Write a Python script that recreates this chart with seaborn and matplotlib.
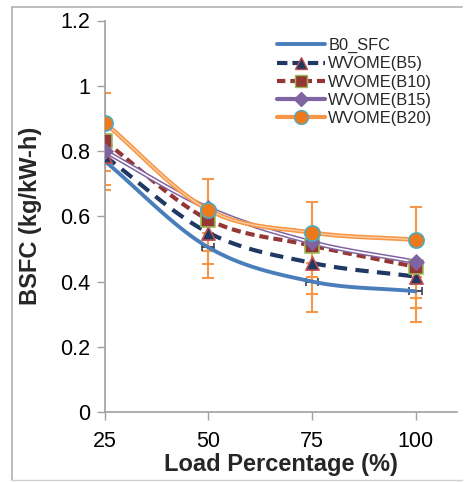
import numpy as np
import pandas as pd
import matplotlib
matplotlib.use("Agg")
import matplotlib.pyplot as plt
import seaborn as sns
from matplotlib.lines import Line2D

# ---- data ----
load = [25, 50, 75, 100]
b0_sfc = [0.77, 0.505, 0.40, 0.37]
b5 = [0.785, 0.55, 0.457, 0.415]
b10 = [0.83, 0.59, 0.51, 0.445]
b15 = [0.80, 0.625, 0.52, 0.46]
b20 = [0.887, 0.62, 0.55, 0.528]
err_b20_up = [0.09, 0.095, 0.095, 0.10]
err_low = [0.09, 0.095, 0.095, 0.095]
series_names = ["B0_SFC", "WVOME(B5)", "WVOME(B10)", "WVOME(B15)", "WVOME(B20)"]
x_ticks = [25, 50, 75, 100]
y_ticks = [0, 0.2, 0.4, 0.6, 0.8, 1, 1.2]
y_ticklabels = ["0", "0.2", "0.4", "0.6", "0.8", "1", "1.2"]

sns.set_theme(style="white")
plt.rcParams["font.family"] = ["Liberation Sans", "DejaVu Sans"]

fig = plt.figure(figsize=(4.75, 4.82), dpi=100)
ax = fig.add_axes([104.5 / 475, 1 - 412 / 482, (457 - 104.5) / 475, (412 - 20.5) / 482])


def smooth(xs, ys, n=40):
    """Catmull-Rom rendering of a line through the given points (Excel-style smoothing)."""
    xs = np.asarray(xs, float)
    ys = np.asarray(ys, float)
    P = np.column_stack([xs, ys])
    P = np.vstack([2 * P[0] - P[1], P, 2 * P[-1] - P[-2]])
    out = []
    for i in range(1, len(P) - 2):
        p0, p1, p2, p3 = P[i - 1], P[i], P[i + 1], P[i + 2]
        t = np.linspace(0, 1, n)[:, None]
        c1 = p1 + (p2 - p0) / 6
        c2 = p2 - (p3 - p1) / 6
        pts = ((1 - t) ** 3) * p1 + 3 * ((1 - t) ** 2) * t * c1 + 3 * (1 - t) * t ** 2 * c2 + t ** 3 * p2
        out.append(pts if i == 1 else pts[1:])
    pts = np.vstack(out)
    return pd.DataFrame({"x": pts[:, 0], "y": pts[:, 1]})


blue = "#4a7ebb"
navy = "#1f3864"
dred = "#953735"
purple = "#8064a2"
orange = "#f79646"

# error bars (orange)
ax.errorbar(load, b20, yerr=[[0, 0, 0, 0], err_b20_up], fmt="none", ecolor=orange,
            elinewidth=1.5, capsize=4, capthick=1.5, zorder=2)
for ys in (b0_sfc, b5, b10):
    ax.errorbar(load, ys, yerr=[err_low, [0, 0, 0, 0]], fmt="none", ecolor=orange,
                elinewidth=1.5, capsize=4, capthick=1.5, zorder=2)
# small horizontal error bars on B0
ax.errorbar(load[1:], b0_sfc[1:], xerr=1.5, fmt="none", ecolor="#333f50",
            elinewidth=1.2, capsize=3, capthick=1.2, zorder=3)

# lines
d = smooth(load, b0_sfc)
sns.lineplot(data=d, x="x", y="y", sort=False, ax=ax, color=blue, lw=2.8, zorder=3)
d = smooth(load, b5)
sns.lineplot(data=d, x="x", y="y", sort=False, ax=ax, color=navy, lw=3, zorder=3)
ax.lines[-1].set_dashes([3.2, 2.0])
d = smooth(load, b10)
sns.lineplot(data=d, x="x", y="y", sort=False, ax=ax, color=dred, lw=3, zorder=3)
ax.lines[-1].set_dashes([2.2, 1.2])
d = smooth(load, b15)
sns.lineplot(data=d, x="x", y="y", sort=False, ax=ax, color=purple, lw=3.4, zorder=3)
sns.lineplot(data=d, x="x", y="y", sort=False, ax=ax, color="white", lw=1.2, zorder=3)
d = smooth(load, b20)
sns.lineplot(data=d, x="x", y="y", sort=False, ax=ax, color=orange, lw=3.2, zorder=3)
sns.lineplot(data=d, x="x", y="y", sort=False, ax=ax, color="#fbd0a8", lw=0.9, zorder=3)

# markers
sns.scatterplot(x=load, y=b5, ax=ax, marker="^", s=90, color=navy, edgecolor="#c0504d", linewidth=1.2, zorder=4)
sns.scatterplot(x=load, y=b10, ax=ax, marker="s", s=90, color=dred, edgecolor="#9bbb59", linewidth=1.2, zorder=4)
sns.scatterplot(x=load, y=b15, ax=ax, marker="D", s=60, color=purple, edgecolor=purple, linewidth=1, zorder=4)
sns.scatterplot(x=load, y=b20, ax=ax, marker="o", s=120, color="#ec7a1c", edgecolor="#4bacc6", linewidth=1.2, zorder=5)

ax.set_xlim(25, 110)
ax.set_ylim(0, 1.2)
ax.set_xticks(x_ticks)
ax.set_xticklabels([str(v) for v in x_ticks])
ax.set_yticks(y_ticks)
ax.set_yticklabels(y_ticklabels)
ax.tick_params(axis="both", which="both", labelsize=15.5, colors="#a0a0a0", labelcolor="black",
               length=6, width=1, direction="out", left=True, bottom=True)
ax.tick_params(axis="x", pad=7.5)
ax.tick_params(axis="y", pad=4)
for s in ("top", "right"):
    ax.spines[s].set_visible(False)
for s in ("left", "bottom"):
    ax.spines[s].set_color("#a0a0a0")
    ax.spines[s].set_linewidth(1.2)
ax.grid(False)
ax.set_xlabel("Load Percentage (%)", fontsize=17, fontweight="bold", labelpad=1)
ax.set_ylabel("BSFC (kg/kW-h)", fontsize=17, fontweight="bold", labelpad=13)

handles = [
    Line2D([], [], color=blue, lw=2.8),
    Line2D([], [], color=navy, lw=3, dashes=[2.5, 1.2], marker="^", markersize=9,
           markerfacecolor=navy, markeredgecolor="#c0504d"),
    Line2D([], [], color=dred, lw=3, dashes=[2.0, 1.2], marker="s", markersize=9,
           markerfacecolor=dred, markeredgecolor="#9bbb59"),
    Line2D([], [], color=purple, lw=3, marker="D", markersize=7,
           markerfacecolor=purple, markeredgecolor=purple),
    Line2D([], [], color=orange, lw=3, marker="o", markersize=10,
           markerfacecolor="#ec7a1c", markeredgecolor="#4bacc6"),
]
leg = ax.legend(handles, series_names, loc="upper left", bbox_to_anchor=(0.458, 0.985),
                frameon=False, fontsize=11.8, handlelength=2.9, handletextpad=0.2,
                labelspacing=0.2, borderaxespad=0.3)

# outer frame
fig.add_artist(Line2D([12 / 475, 12 / 475], [1 - 480 / 482, 1 - 7 / 482], color="#b0b0b0", lw=1.2))
fig.add_artist(Line2D([12 / 475, 462 / 475], [1 - 7 / 482, 1 - 7 / 482], color="#b0b0b0", lw=1.2))
fig.add_artist(Line2D([12 / 475, 462 / 475], [1 - 480 / 482, 1 - 480 / 482], color="#d0d0d0", lw=1.0))

fig.savefig("out.png", dpi=100)
